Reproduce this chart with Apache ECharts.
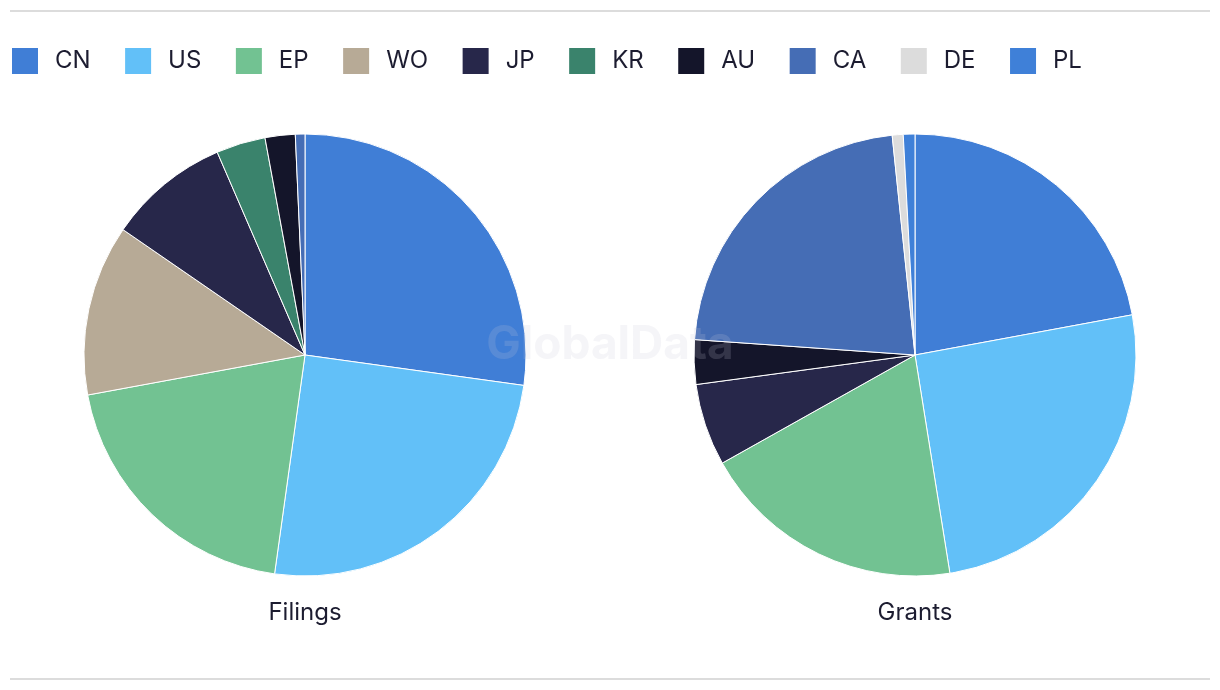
<!DOCTYPE html>
<html>
<head>
<meta charset="utf-8">
<script src="https://cdn.jsdelivr.net/npm/echarts@6/dist/echarts.min.js"></script>
<style>html,body{margin:0;padding:0;background:#fff;}#c{width:1220px;height:690px;}</style>
</head>
<body>
<div id="c"></div>
<script>
const categories = ['CN','US','EP','WO','JP','KR','AU','CA','DE','PL'];
const colors = ['#407ed6','#62c0f8','#72c292','#b7aa96','#27274a','#3a836c','#14152a','#456db5','#dcdcdc','#3f80d8'];
const filings = [27.2, 25.0, 19.9, 12.5, 8.9, 3.6, 2.2, 0.7, 0, 0];
const grants  = [22.1, 25.4, 19.4, 0, 6.0, 0, 3.25, 22.25, 0.8, 0.85];
const pieTitles = ['Filings','Grants'];

const FONT = 'Inter, "Noto Sans", sans-serif';
function mk(vals){
  const out = [];
  vals.forEach((v,i)=>{ if(v>0) out.push({name:categories[i], value:v, itemStyle:{color:colors[i]}}); });
  return out;
}
const chart = echarts.init(document.getElementById('c'));
chart.setOption({
  animation:false,
  color: colors,
  legend:{
    data: categories, left: 10, top: 46, padding:0, icon:'rect', itemWidth:28, itemHeight:28, itemGap:32.5,
    textStyle:{fontFamily:FONT, fontSize:24, color:'#1c1c30', padding:[0,0,0,11]}
  },
  title: pieTitles.map((t,i)=>({text:t, left: i===0?305:915, top:601, padding:0, textAlign:'center',
    textStyle:{fontFamily:FONT, fontSize:24, fontWeight:'normal', color:'#1c1c30'}})),
  graphic:[
    {type:'line', shape:{x1:10,y1:11,x2:1210,y2:11}, style:{stroke:'#dcdcdc', lineWidth:2}},
    {type:'line', shape:{x1:10,y1:679,x2:1210,y2:679}, style:{stroke:'#dcdcdc', lineWidth:2}},
    {type:'text', left:'center', top:322, z:100, style:{text:'GlobalData', font:'bold 46px '+FONT, fill:'rgba(200,200,215,0.18)'}}
  ],
  series:[filings, grants].map((vals,i)=>({
    type:'pie', center:[i===0?305:915, 355], radius:[0,221], startAngle:90, clockwise:true,
    label:{show:false}, labelLine:{show:false}, emphasis:{disabled:true},
    itemStyle:{borderColor:'#fff', borderWidth:1},
    data: mk(vals)
  }))
});
</script>
</body>
</html>
